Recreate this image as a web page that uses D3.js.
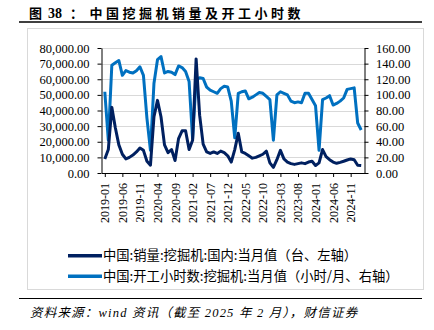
<!DOCTYPE html>
<html><head><meta charset="utf-8">
<script src="https://cdn.jsdelivr.net/npm/d3@7"></script>
<style>body{margin:0;background:#fff} svg{display:block}</style>
</head><body><svg id="c" width="434" height="330"></svg>
<script>
const months = [
"2019-01","2019-02","2019-03","2019-04","2019-05","2019-06","2019-07","2019-08","2019-09","2019-10","2019-11","2019-12",
"2020-01","2020-02","2020-03","2020-04","2020-05","2020-06","2020-07","2020-08","2020-09","2020-10","2020-11","2020-12",
"2021-01","2021-02","2021-03","2021-04","2021-05","2021-06","2021-07","2021-08","2021-09","2021-10","2021-11","2021-12",
"2022-01","2022-02","2022-03","2022-04","2022-05","2022-06","2022-07","2022-08","2022-09","2022-10","2022-11","2022-12",
"2023-01","2023-02","2023-03","2023-04","2023-05","2023-06","2023-07","2023-08","2023-09","2023-10","2023-11","2023-12",
"2024-01","2024-02","2024-03","2024-04","2024-05","2024-06","2024-07","2024-08","2024-09","2024-10","2024-11","2024-12",
"2025-01","2025-02"];
const xTickLabels = ["2019-01","2019-06","2019-11","2020-04","2020-09","2021-02","2021-07","2021-12","2022-05","2022-10","2023-03","2023-08","2024-01","2024-06","2024-11"];
const salesDomestic = [
9000,15000,42000,29000,18000,12000,9000,10000,11500,13500,16000,14500,
7500,5000,36000,46500,36000,18000,13000,15000,8000,22000,27000,27000,
15000,21000,73000,37000,18500,13500,12500,13500,12500,14000,13000,11000,
7000,15000,25500,13500,12500,11000,9500,10000,11000,12000,14000,6500,
3600,8500,14500,9000,7000,6000,5500,6000,6500,6000,7000,7500,
4800,6500,15000,10500,8500,7000,6200,6800,7500,8300,9000,8500,
5000,4800];
const workingHours = [
104,42,138,141,144,125,131,129,128,131,136,125,
70,29,115,145,149,128,130,129,126,137,135,130,
117,44,119,122,121,110,106,104,102,108,111,110,
92,45,102,104,105,95,97,100,103,102,98,94,
42,100,104,102,100,92,90,91,90,102,102,94,
86,29,94,96,99,87,89,92,96,107,108,109,
64,55];
const leftTicks = [0,10000,20000,30000,40000,50000,60000,70000,80000];
const rightTicks = [0,20,40,60,80,100,120,140,160];
const seriesNames = ["中国:销量:挖掘机:国内:当月值（台、左轴）","中国:开工小时数:挖掘机:当月值（小时/月、右轴）"];
const seriesColors = ["#002060","#0070C0"];

const svg = d3.select('#c');
svg.append('rect').attr('width',434).attr('height',330).attr('fill','#fff');

// title
const cjk = '"Noto Sans CJK SC", sans-serif';
const serif = '"Liberation Serif", "Times New Roman", serif';
const t = svg.append('text').attr('y',17.5).attr('font-weight','bold').attr('font-size',13).attr('fill','#000');
t.append('tspan').attr('x',29).attr('font-family',cjk).text('图');
t.append('tspan').attr('x',48).attr('font-family',serif).attr('font-size',14).text('38');
t.append('tspan').attr('x',70).attr('font-family',cjk).text('：');
t.append('tspan').attr('x',89.5).attr('font-family',cjk).attr('letter-spacing',3.5).text('中国挖掘机销量及开工小时数');
svg.append('line').attr('x1',19).attr('x2',422).attr('y1',22).attr('y2',22).attr('stroke','#000').attr('stroke-width',1.3);

// frame
svg.append('rect').attr('x',27.5).attr('y',28.5).attr('width',396).attr('height',261)
  .attr('fill','none').attr('stroke','#d9d9d9').attr('stroke-width',1);

const P = {left:101.5, right:364.5, top:48, bottom:173};
const x = d3.scalePoint().domain(months).range([P.left,P.right]).padding(0.94);
const yL = d3.scaleLinear().domain([0,80000]).range([P.bottom,P.top]);
const yR = d3.scaleLinear().domain([0,160]).range([P.bottom,P.top]);

// grid
svg.append('g').selectAll('line').data(leftTicks.filter(d=>d>0)).join('line')
  .attr('x1',P.left).attr('x2',P.right).attr('y1',d=>Math.round(yL(d))+0.5).attr('y2',d=>Math.round(yL(d))+0.5)
  .attr('stroke','#d9d9d9').attr('stroke-width',1);

function styleAxis(g){
  g.selectAll('path').attr('stroke','#000').attr('stroke-width',1);
  g.selectAll('line').attr('stroke','#000').attr('stroke-width',1);
  g.selectAll('text').attr('fill','#000').attr('font-family',serif).attr('font-size',12.5);
}
svg.append('g').attr('transform',`translate(${P.left},0)`)
  .call(d3.axisLeft(yL).tickValues(leftTicks).tickFormat(d3.format(',.2f')).tickSize(4).tickSizeOuter(0).tickPadding(8))
  .call(styleAxis);
svg.append('g').attr('transform',`translate(${P.right},0)`)
  .call(d3.axisRight(yR).tickValues(rightTicks).tickFormat(d3.format('.2f')).tickSize(4).tickSizeOuter(0).tickPadding(7.5))
  .call(styleAxis);
const xa = svg.append('g').attr('transform',`translate(0,${P.bottom})`)
  .call(d3.axisBottom(x).tickValues(xTickLabels).tickSize(4).tickSizeOuter(0))
  .call(styleAxis);
xa.selectAll('text').attr('font-size',12).attr('transform','rotate(-90)').attr('x',-10).attr('y',0).attr('dy','0.33em').attr('text-anchor','end');

// lines
const lineL = d3.line().x((d,i)=>x(months[i])).y(d=>yL(d));
const lineR = d3.line().x((d,i)=>x(months[i])).y(d=>yR(d));
svg.append('path').datum(workingHours).attr('d',lineR).attr('fill','none').attr('stroke',seriesColors[1]).attr('stroke-width',3).attr('stroke-linejoin','round');
svg.append('path').datum(salesDomestic).attr('d',lineL).attr('fill','none').attr('stroke',seriesColors[0]).attr('stroke-width',3).attr('stroke-linejoin','round');

// legend
const lg = svg.append('g').selectAll('g').data(seriesNames).join('g')
  .attr('transform',(d,i)=>`translate(0,${255.7+i*20.6})`);
lg.append('line').attr('x1',68).attr('x2',102).attr('stroke',(d,i)=>seriesColors[i]).attr('stroke-width',3.5);
lg.append('text').attr('x',103).attr('dy','0.36em').attr('font-family',cjk).attr('font-size',13.3).attr('fill','#000').text(d=>d);

// footer
svg.append('line').attr('x1',19).attr('x2',422).attr('y1',298.5).attr('y2',298.5).attr('stroke','#000').attr('stroke-width',1.2);
svg.append('text').attr('x',30).attr('y',317).attr('font-style','italic').attr('font-size',12.5).attr('fill','#000')
  .attr('font-family','"Liberation Serif", "Noto Sans CJK SC", serif').attr('letter-spacing',1.2)
  .text('资料来源：wind 资讯（截至 2025 年 2 月），财信证券');
</script></body></html>
